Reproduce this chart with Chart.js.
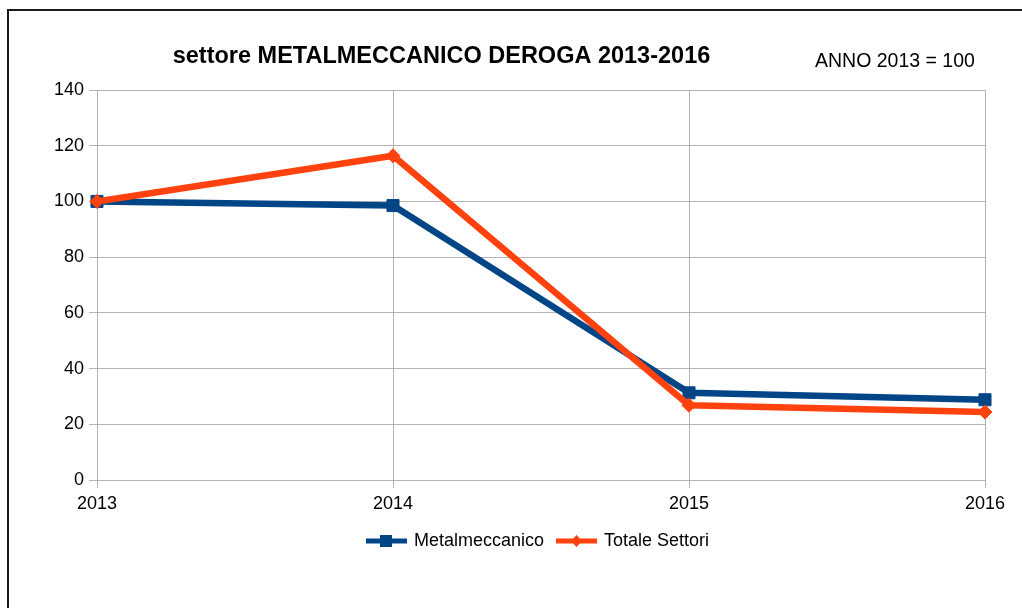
<!DOCTYPE html>
<html>
<head>
<meta charset="utf-8">
<script src="https://cdn.jsdelivr.net/npm/chart.js@4/dist/chart.umd.min.js"></script>
<style>
	html, body { margin: 0; padding: 0; background: #fff; }
	#wrap { width: 1022px; height: 608px; }
</style>
</head>
<body>
<div id="wrap"><canvas id="chart-area-1" width="1022" height="608"></canvas></div>
<script>
var anni = ['2013', '2014', '2015', '2016'];
var metalmeccanico = [100, 98.5, 31.3, 28.8];
var totaleSettori = [100, 116.4, 26.8, 24.4];
var yTicks = [0, 20, 40, 60, 80, 100, 120, 140];

var BLU = '#004586';
var ARANCIO = '#ff420e';
var FONT = '"Liberation Sans", Arial, sans-serif';

// icona legenda: linea + marker
function legendIcon(color, style){
	var c = document.createElement('canvas');
	c.width = 41; c.height = 16;
	var g = c.getContext('2d');
	g.strokeStyle = color;
	g.fillStyle = color;
	g.lineWidth = 5;
	g.beginPath(); g.moveTo(0, 8); g.lineTo(41, 8); g.stroke();
	g.beginPath();
	if (style === 'rect') {
		g.rect(14, 2, 12, 12);
	} else {
		g.moveTo(20.5, 2); g.lineTo(26, 8); g.lineTo(20.5, 14); g.lineTo(15, 8); g.closePath();
	}
	g.fill();
	return c;
}

var cornice = {
	id: 'cornice',
	afterLayout: function(chart){
		// legenda centrata sull'area del grafico
		chart.legend.left += 46;
		chart.legend.right += 46;
	},
	beforeDraw: function(chart){
		var ctx = chart.ctx;
		ctx.save();
		ctx.fillStyle = '#fff';
		ctx.fillRect(0, 0, chart.width, chart.height);
		ctx.strokeStyle = '#1a1a1a';
		ctx.lineWidth = 2;
		ctx.beginPath();
		ctx.moveTo(8, 608);
		ctx.lineTo(8, 10);
		ctx.lineTo(1022, 10);
		ctx.stroke();
		ctx.restore();
	},
	afterDraw: function(chart){
		var ctx = chart.ctx;
		ctx.save();
		ctx.fillStyle = '#000';
		ctx.textBaseline = 'alphabetic';
		ctx.textAlign = 'center';
		ctx.font = 'bold 23.5px ' + FONT;
		ctx.fillText('settore METALMECCANICO DEROGA 2013-2016', 441.5, 63);
		ctx.textAlign = 'left';
		ctx.font = '19.5px ' + FONT;
		ctx.fillText('ANNO 2013 = 100', 815, 67);
		ctx.restore();
	}
};

var ctx = document.getElementById('chart-area-1').getContext('2d');
window.myLine = new Chart(ctx, {
	type: 'line',
	data: {
		labels: anni,
		datasets: [{
			label: 'Metalmeccanico',
			data: metalmeccanico,
			borderColor: BLU,
			backgroundColor: BLU,
			borderWidth: 6.5,
			pointStyle: 'rect',
			pointRadius: 8.5,
			pointBorderWidth: 1,
			tension: 0,
			order: 1
		}, {
			label: 'Totale Settori',
			data: totaleSettori,
			borderColor: ARANCIO,
			backgroundColor: ARANCIO,
			borderWidth: 6.5,
			pointStyle: 'rectRot',
			pointRadius: 7,
			pointBorderWidth: 1,
			tension: 0,
			order: 0
		}]
	},
	options: {
		responsive: false,
		animation: false,
		layout: {
			padding: { left: 0, right: 37, top: 90, bottom: 48 }
		},
		plugins: {
			title: { display: false },
			tooltip: { enabled: false },
			legend: {
				position: 'bottom',
				labels: {
					usePointStyle: true,
					pointStyleWidth: 37,
					padding: 14,
					color: '#000',
					font: { family: FONT, size: 18 },
					generateLabels: function(chart){
						return [
							{ text: 'Metalmeccanico', pointStyle: legendIcon(BLU, 'rect'), fillStyle: BLU, strokeStyle: BLU, lineWidth: 0, datasetIndex: 0, fontColor: '#000' },
							{ text: 'Totale Settori', pointStyle: legendIcon(ARANCIO, 'rot'), fillStyle: ARANCIO, strokeStyle: ARANCIO, lineWidth: 0, datasetIndex: 1, fontColor: '#000' }
						];
					}
				}
			}
		},
		scales: {
			x: {
				grid: { color: '#b3b3b3', tickLength: 8, lineWidth: 1 },
				border: { display: false },
				ticks: { color: '#000', padding: 5, maxRotation: 0, font: { family: FONT, size: 18 } },
				afterFit: function(scale){ scale.height = 38; }
			},
			y: {
				min: 0,
				max: 140,
				afterBuildTicks: function(scale){
					scale.ticks = yTicks.map(function(v){ return { value: v }; });
				},
				grid: { color: '#b3b3b3', tickLength: 8, lineWidth: 1 },
				border: { display: false },
				ticks: { color: '#000', padding: 5, font: { family: FONT, size: 18 } },
				afterFit: function(scale){ scale.width = 97; }
			}
		}
	},
	plugins: [cornice]
});
</script>
</body>
</html>
